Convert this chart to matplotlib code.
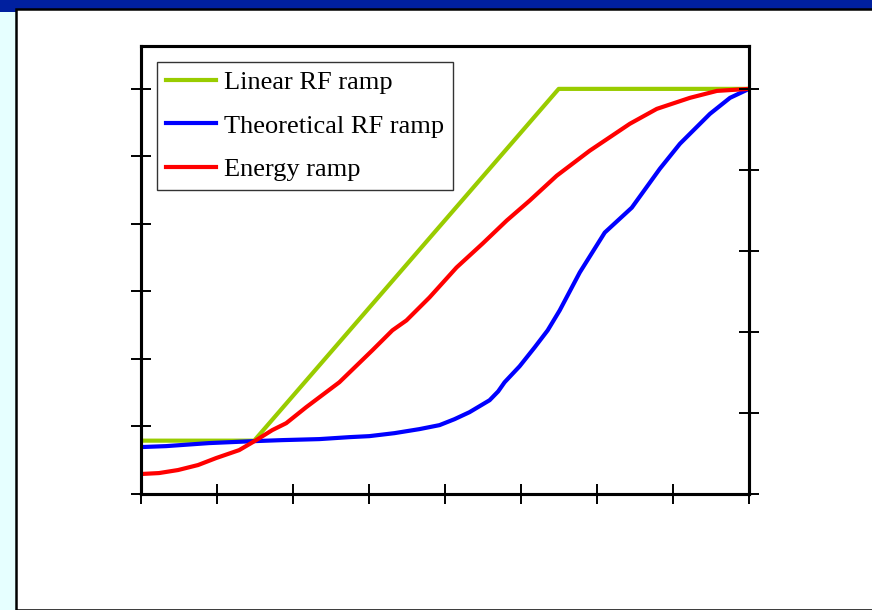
import matplotlib
matplotlib.use("Agg")
import matplotlib.pyplot as plt
from matplotlib.patches import Rectangle
from matplotlib.lines import Line2D

# ---- data (arbitrary units) ----
linear_x = [0.0, 1.489, 5.496, 8.0]
linear_y = [0.79, 0.79, 6.0, 6.0]

theo_x = [0.0, 0.33, 0.896, 1.489, 1.858, 2.346, 2.742, 3.005, 3.334, 3.664,
          3.928, 4.125, 4.323, 4.587, 4.700, 4.784, 4.982, 5.180, 5.351, 5.509,
          5.773, 6.102, 6.458, 6.827, 7.091, 7.486, 7.750, 8.0]
theo_y = [0.695, 0.709, 0.754, 0.783, 0.798, 0.813, 0.842, 0.857, 0.901, 0.961,
          1.020, 1.108, 1.212, 1.389, 1.520, 1.655, 1.892, 2.172, 2.424, 2.719,
          3.281, 3.872, 4.241, 4.817, 5.187, 5.630, 5.867, 6.0]

energy_x = [0.0, 0.237, 0.488, 0.751, 0.988, 1.292, 1.516, 1.727, 1.911, 2.174,
            2.610, 3.044, 3.308, 3.493, 3.796, 4.152, 4.495, 4.811, 5.114, 5.470,
            5.904, 6.432, 6.787, 7.222, 7.578, 8.0]
energy_y = [0.296, 0.310, 0.355, 0.429, 0.532, 0.650, 0.798, 0.946, 1.049, 1.286,
            1.655, 2.128, 2.424, 2.571, 2.911, 3.355, 3.709, 4.049, 4.345, 4.714,
            5.084, 5.483, 5.704, 5.867, 5.970, 6.0]

labels = ["Linear RF ramp", "Theoretical RF ramp", "Energy ramp"]
colors = ["#99CC00", "#0000FF", "#FF0000"]

x_ticks = list(range(0, 9))
left_ticks = list(range(0, 7))
right_ticks = [0, 1.2, 2.4, 3.6, 4.8, 6.0]

W, H = 872, 610
fig = plt.figure(figsize=(W / 100, H / 100), dpi=100)
fig.patch.set_facecolor("white")

# slide decoration
fig.add_artist(Rectangle((0, 0), 1, 1, transform=fig.transFigure,
                         facecolor="#E6FFFF", edgecolor="none", zorder=-10))
fig.add_artist(Rectangle((0, 1 - 12 / H), 1, 12 / H, transform=fig.transFigure,
                         facecolor="#00209F", edgecolor="none", zorder=-9))
fig.add_artist(Rectangle((15.5 / W, 0), 1, 1 - 8.5 / H, transform=fig.transFigure,
                         facecolor="white", edgecolor="black", linewidth=1.8, zorder=-8))

ax = fig.add_axes([141 / W, 1 - 494 / H, (749 - 141) / W, (494 - 46) / H])
ax.set_facecolor("none")

ax.plot(linear_x, linear_y, color=colors[0], lw=3, solid_capstyle="butt")
ax.plot(theo_x, theo_y, color=colors[1], lw=3, solid_capstyle="butt")
ax.plot(energy_x, energy_y, color=colors[2], lw=3, solid_capstyle="butt")

ax.set_xlim(0, 8)
ax.set_ylim(0, 6.635)
ax.set_xticks(x_ticks)
ax.set_yticks(left_ticks)
ax.set_xticklabels([])
ax.set_yticklabels([])
ax.tick_params(direction="inout", length=14, width=1.4, color="black")
for s in ax.spines.values():
    s.set_linewidth(2.2)
    s.set_color("black")

ax2 = ax.twinx()
ax2.set_ylim(0, 6.635)
ax2.set_yticks(right_ticks)
ax2.set_yticklabels([])
ax2.tick_params(direction="inout", length=14, width=1.4, color="black")
for s in ax2.spines.values():
    s.set_linewidth(2.2)

handles = [Line2D([], [], color=c, lw=3) for c in colors]
leg = ax2.legend(handles, labels, loc="upper left",
                 bbox_to_anchor=(157 / W, 1 - 62 / H), bbox_transform=fig.transFigure,
                 borderaxespad=0, frameon=True, fancybox=False,
                 prop={"family": "Liberation Serif", "size": 19},
                 handlelength=1.9, handletextpad=0.3, labelspacing=0.76,
                 borderpad=0.33)
leg.get_frame().set_edgecolor("black")
leg.get_frame().set_linewidth(1.0)

fig.savefig("out.png", dpi=100)
